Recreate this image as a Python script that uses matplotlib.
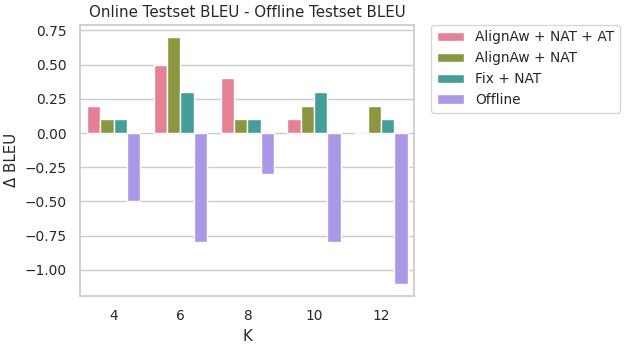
import matplotlib
matplotlib.use("Agg")
import matplotlib.pyplot as plt
import seaborn as sns
import pandas as pd

K = [4, 6, 8, 10, 12]
methods = ["AlignAw + NAT + AT", "AlignAw + NAT", "Fix + NAT", "Offline"]
delta = {
    "AlignAw + NAT + AT": [0.2, 0.5, 0.4, 0.1, 0.0],
    "AlignAw + NAT": [0.1, 0.7, 0.1, 0.2, 0.2],
    "Fix + NAT": [0.1, 0.3, 0.1, 0.3, 0.1],
    "Offline": [-0.5, -0.8, -0.3, -0.8, -1.1],
}

rows = []
for m in methods:
    for k, v in zip(K, delta[m]):
        rows.append({"K": k, "method": m, "bleu": v})
df = pd.DataFrame(rows)

sns.set_theme(style="whitegrid", font_scale=0.9)
fig, ax = plt.subplots(figsize=(6.26, 3.46), dpi=100)
sns.barplot(data=df, x="K", y="bleu", hue="method", hue_order=methods,
            palette="husl", ax=ax)
ax.set_title("Online Testset BLEU - Offline Testset BLEU")
ax.set_xlabel("K")
ax.set_ylabel("Δ BLEU")
ax.legend(bbox_to_anchor=(1.05, 1), loc=2, borderaxespad=0.)
fig.subplots_adjust(left=0.128, right=0.662, top=0.928, bottom=0.145)
fig.savefig("out.png")
